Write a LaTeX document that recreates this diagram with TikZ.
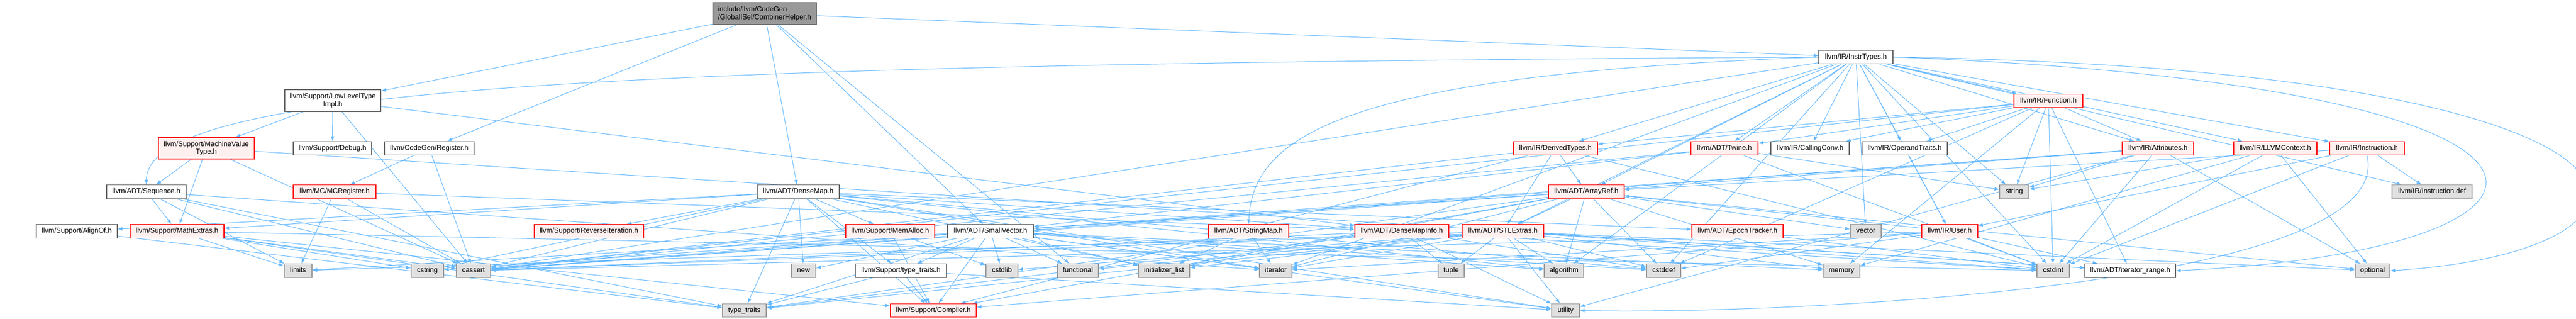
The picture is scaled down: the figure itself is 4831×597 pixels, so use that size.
\documentclass[tikz,border=0pt]{standalone}
\usepackage{fontspec}
\setmainfont{Liberation Sans}
\usepackage{tikz}
\usetikzlibrary{arrows.meta, backgrounds}

\definecolor{edgeblue}{HTML}{63B8FF}
\definecolor{redfill}{HTML}{FFF0F0}
\definecolor{sysfill}{HTML}{E0E0E0}

\tikzset{
  nbase/.style={rectangle,line width=1.2pt,inner xsep=3pt,inner ysep=2pt,font=\fontsize{13.2}{14.5}\selectfont},
  hbox/.style={nbase,draw=black!60,fill=white,minimum height=25.6pt,text height=9.5pt,text depth=2.7pt},
  trunc/.style={hbox,draw=red,fill=redfill},
  sys/.style={hbox,draw=black!40,fill=sysfill},
  dep/.style={draw=edgeblue,line width=1pt,-{Latex[length=9pt,width=7pt]}},
}

\begin{document}
\begin{tikzpicture}[x=1pt,y=-1pt]
    \useasboundingbox (0,0) rectangle (4831,597);
    % top rows
    \node[nbase,draw=black!60,fill=black!40,align=left,minimum width=194pt,minimum height=41pt] (root) at (1434,25.5) {include/llvm/CodeGen\\/GlobalISel/CombinerHelper.h};
    \node[hbox,minimum width=139pt] (instr) at (3480.5,107) {llvm/IR/InstrTypes.h};
    \node[nbase,draw=black!60,fill=white,align=center,minimum width=180pt,minimum height=41pt] (lltimpl) at (624,188.5) {llvm/Support/LowLevelType\\Impl.h};
    \node[trunc,minimum width=129pt] (func) at (3841.5,189) {llvm/IR/Function.h};
    % row 3
    \node[nbase,draw=red,fill=redfill,align=center,minimum width=180pt,minimum height=40pt] (mvt) at (387,278) {llvm/Support/MachineValue\\Type.h};
    \node[hbox,minimum width=147pt] (debug) at (623.5,278) {llvm/Support/Debug.h};
    \node[hbox,minimum width=168pt] (reg) at (805,278) {llvm/CodeGen/Register.h};
    \node[trunc,minimum width=158pt] (derived) at (2917,278) {llvm/IR/DerivedTypes.h};
    \node[trunc,minimum width=126pt] (twine) at (3234,278) {llvm/ADT/Twine.h};
    \node[hbox,minimum width=147pt] (callconv) at (3394.5,278) {llvm/IR/CallingConv.h};
    \node[hbox,minimum width=160pt] (optraits) at (3572,278) {llvm/IR/OperandTraits.h};
    \node[trunc,minimum width=134pt] (attrs) at (4047,278) {llvm/IR/Attributes.h};
    \node[trunc,minimum width=156pt] (llvmctx) at (4267,278) {llvm/IR/LLVMContext.h};
    \node[trunc,minimum width=140pt] (insth) at (4439,278) {llvm/IR/Instruction.h};
    % row 4
    \node[hbox,minimum width=149pt] (seq) at (274.5,359.5) {llvm/ADT/Sequence.h};
    \node[trunc,minimum width=155pt] (mcreg) at (627.5,359.5) {llvm/MC/MCRegister.h};
    \node[hbox,minimum width=154pt] (densemap) at (1497,359.5) {llvm/ADT/DenseMap.h};
    \node[trunc,minimum width=142pt] (arrayref) at (2975,359.5) {llvm/ADT/ArrayRef.h};
    \node[sys,minimum width=55pt] (string) at (3777.5,359.5) {string};
    \node[sys,minimum width=150pt] (instdef) at (4561,359.5) {llvm/IR/Instruction.def};
    % row 5
    \node[hbox,minimum width=152pt] (alignof) at (144,433.5) {llvm/Support/AlignOf.h};
    \node[trunc,minimum width=176pt] (mathx) at (332,433.5) {llvm/Support/MathExtras.h};
    \node[trunc,minimum width=205pt] (reviter) at (1104.5,433.5) {llvm/Support/ReverseIteration.h};
    \node[trunc,minimum width=167pt] (memalloc) at (1669.5,433.5) {llvm/Support/MemAlloc.h};
    \node[hbox,minimum width=161pt] (smallvec) at (1857.5,433.5) {llvm/ADT/SmallVector.h};
    \node[trunc,minimum width=151pt] (strmap) at (2341.5,433.5) {llvm/ADT/StringMap.h};
    \node[trunc,minimum width=176pt] (dmapinfo) at (2629,433.5) {llvm/ADT/DenseMapInfo.h};
    \node[trunc,minimum width=153pt] (stlx) at (2818.5,433.5) {llvm/ADT/STLExtras.h};
    \node[trunc,minimum width=171pt] (epoch) at (3258.5,433.5) {llvm/ADT/EpochTracker.h};
    \node[sys,minimum width=58pt] (vector) at (3499,433.5) {vector};
    \node[trunc,minimum width=105pt] (user) at (3656.5,433.5) {llvm/IR/User.h};
    % row 6
    \node[sys,minimum width=52pt] (limits) at (559,507.5) {limits};
    \node[sys,minimum width=61pt] (cstring) at (801.5,507.5) {cstring};
    \node[sys,minimum width=64pt] (cassert) at (888,507.5) {cassert};
    \node[sys,minimum width=46pt] (new) at (1507,507.5) {new};
    \node[hbox,minimum width=171pt] (suptt) at (1689.5,507.5) {llvm/Support/type\_traits.h};
    \node[sys,minimum width=60pt] (cstdlib) at (1879,507.5) {cstdlib};
    \node[sys,minimum width=77pt] (functional) at (2021.5,507.5) {functional};
    \node[sys,minimum width=96pt] (initlist) at (2183,507.5) {initializer\_list};
    \node[sys,minimum width=61pt] (iterator) at (2392.5,507.5) {iterator};
    \node[sys,minimum width=49pt] (tuple) at (2721.5,507.5) {tuple};
    \node[sys,minimum width=74pt] (algorithm) at (2933,507.5) {algorithm};
    \node[sys,minimum width=64pt] (cstddef) at (3120,507.5) {cstddef};
    \node[sys,minimum width=69pt] (memory) at (3453.5,507.5) {memory};
    \node[sys,minimum width=61pt] (cstdint) at (3850.5,507.5) {cstdint};
    \node[hbox,minimum width=170pt] (iterrange) at (3995,507.5) {llvm/ADT/iterator\_range.h};
    \node[sys,minimum width=65pt] (optional) at (4449.5,507.5) {optional};
    % row 7
    \node[sys,minimum width=82pt] (typetraits) at (1396,582) {type\_traits};
    \node[trunc,minimum width=161pt] (compiler) at (1750.5,582) {llvm/Support/Compiler.h};
    \node[sys,minimum width=52pt] (utility) at (2936,582) {utility};

    \begin{scope}[on background layer]
    \fill[white] (0,0) rectangle (4831,597);
    \foreach \t in {lltimpl,reg,densemap,smallvec,functional,instr}
        \draw[dep] (root) -- (\t);
    \foreach \t in {mvt,debug,cassert,dmapinfo}
        \draw[dep] (lltimpl) -- (\t);
    \foreach \t in {seq,mathx,cassert,iterrange}
        \draw[dep] (mvt) -- (\t);
    \foreach \t in {mcreg,cassert}
        \draw[dep] (reg) -- (\t);
    \foreach \t in {dmapinfo,cassert,limits}
        \draw[dep] (mcreg) -- (\t);
    \foreach \t in {cassert,iterator,limits,typetraits,mathx}
        \draw[dep] (seq) -- (\t);
    \foreach \t in {compiler,cassert,limits,cstdint,cstring,typetraits}
        \draw[dep] (mathx) -- (\t);
    \draw[dep] (alignof) -- (typetraits);
    \foreach \t in {dmapinfo,epoch,alignof,compiler,mathx,memalloc,reviter,suptt,algorithm,cassert,cstddef,cstring,initlist,iterator,new,typetraits,utility}
        \draw[dep] (densemap) -- (\t);
    \foreach \t in {compiler,suptt,algorithm,cassert,cstddef,cstdlib,cstring,functional,initlist,iterator,limits,memory,new,typetraits,utility}
        \draw[dep] (smallvec) -- (\t);
    \foreach \t in {compiler,cstdlib}
        \draw[dep] (memalloc) -- (\t);
    \foreach \t in {compiler,typetraits,utility}
        \draw[dep] (suptt) -- (\t);
    \foreach \t in {initlist,iterator}
        \draw[dep] (strmap) -- (\t);
    \foreach \t in {cassert,cstddef,cstdint,tuple,typetraits,utility}
        \draw[dep] (dmapinfo) -- (\t);
    \foreach \t in {iterrange,algorithm,cassert,cstddef,cstdint,cstdlib,functional,initlist,iterator,limits,memory,optional,tuple,typetraits,utility}
        \draw[dep] (stlx) -- (\t);
    \draw[dep] (epoch) -- (cstdint);
    \foreach \t in {arrayref,compiler,cassert,cstddef,cstdint,iterator,iterrange}
        \draw[dep] (user) -- (\t);
    \foreach \t in {smallvec,stlx,compiler,algorithm,cassert,cstddef,initlist,iterator,memory,optional,typetraits,vector}
        \draw[dep] (arrayref) -- (\t);
    \foreach \t in {arrayref,stlx,compiler,cassert,cstdint}
        \draw[dep] (derived) -- (\t);
    \foreach \t in {smallvec,cassert,cstdint,string}
        \draw[dep] (twine) -- (\t);
    \draw[dep] (optraits) -- (user);
    \foreach \t in {arrayref,smallvec,cassert,cstdint,optional,string,utility}
        \draw[dep] (attrs) -- (\t);
    \foreach \t in {cstdint,memory,optional,string}
        \draw[dep] (llvmctx) -- (\t);
    \foreach \t in {arrayref,user,cstdint,instdef}
        \draw[dep] (insth) -- (\t);
    \draw[dep] (insth.south) .. controls (4500,545) and (3300,590) .. (utility.east);
    \foreach \t in {twine,iterrange,attrs,callconv,derived,optraits,cassert,cstddef,cstdint,memory,string}
        \draw[dep] (func) -- (\t);
    \foreach \t in {arrayref,stlx,twine,attrs,callconv,derived,func,insth,llvmctx,optraits,user,algorithm,cassert,cstddef,cstdint,iterator,string,vector,instdef}
        \draw[dep] (instr) -- (\t);
    \draw[dep] (instr.west) .. controls (1200,120) and (274,160) .. (seq.north);
    \draw[dep] (instr.west) .. controls (2500,140) and (2350,260) .. (strmap.north);
    \draw[dep] (instr.east) .. controls (5080,130) and (5080,470) .. (optional.east);
    \draw[dep] (instr.east) .. controls (4960,160) and (4900,470) .. (iterrange.east);
    \end{scope}
\end{tikzpicture}
\end{document}
